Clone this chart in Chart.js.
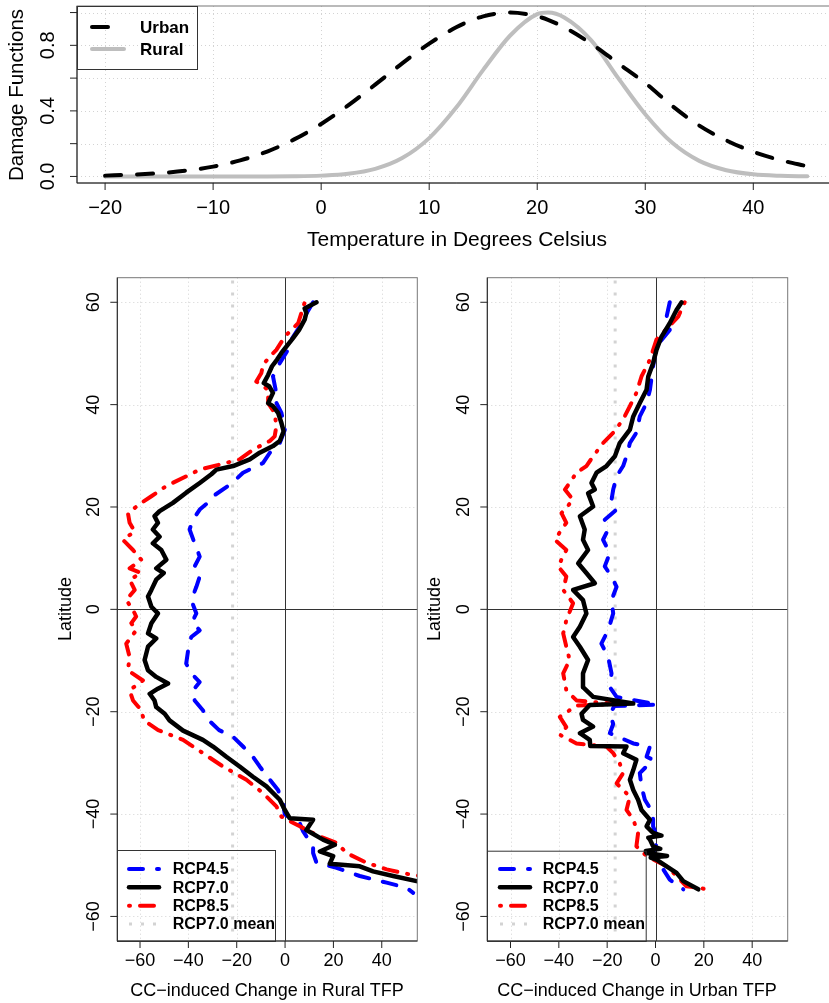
<!DOCTYPE html>
<html>
<head>
<meta charset="utf-8">
<script src="https://cdn.jsdelivr.net/npm/chart.js@4"></script>
<style>
html, body { margin: 0; padding: 0; background: #fff; overflow: hidden; width: 829px; height: 1003px; }
canvas { position: absolute; left: 0; top: 0; }
</style>
</head>
<body>
<canvas id="damage" width="840" height="255"></canvas>
<canvas id="rural" width="829" height="1003"></canvas>
<canvas id="urban" width="829" height="1003"></canvas>
<script>
// --- top panel: damage functions ---
const tempC = [-20, -17.5, -15, -12.5, -10, -7.5, -5, -2.5, 0, 2.5, 5, 7.5, 10, 12.5, 15, 17.5, 20, 21, 22.5, 25, 27.5, 30, 32.5, 35, 37.5, 40, 42.5, 45];
const urbanDamage = [0.005, 0.011, 0.020, 0.035, 0.060, 0.098, 0.152, 0.226, 0.32, 0.433, 0.56, 0.69, 0.81, 0.91, 0.977, 1.0, 0.977, 0.956, 0.91, 0.81, 0.69, 0.57, 0.43, 0.31, 0.22, 0.15, 0.10, 0.062];
const ruralDamage = [0, 0, 0, 0, 0, 0, 0, 0.001, 0.005, 0.016, 0.046, 0.112, 0.234, 0.42, 0.65, 0.86, 0.99, 1.0, 0.97, 0.83, 0.60, 0.38, 0.205, 0.095, 0.038, 0.013, 0.004, 0.001];
const tempTicks = [-20, -10, 0, 10, 20, 30, 40];
const tempTickLabels = ["\u221220", "\u221210", "0", "10", "20", "30", "40"];
const damageTicks = [0, 0.2, 0.4, 0.6, 0.8, 1.0];
const damageTickLabels = ["0.0", "", "0.4", "", "0.8", ""];

// --- bottom panels: [latitude, change in TFP] ---
const ruralRcp45 = [[60,11.6],[57.2,8.1],[55.3,6.1],[52.7,2.6],[50.7,1.2],[48.1,-2.2],[45.5,-5.0],[42.9,-3.9],[41.0,-4.3],[38.4,-1.5],[35.1,-0.1],[32.5,-2.2],[30.6,-6.3],[28.6,-9.1],[26.7,-17.4],[24.7,-21.8],[22.1,-29.8],[21.4,-30.5],[19.5,-35.3],[17.5,-38.1],[15.6,-39.5],[12.9,-37.4],[10.3,-35.3],[8.4,-37.4],[6.4,-35.3],[4.4,-36.7],[1.8,-38.8],[-0.8,-36.7],[-2.5,-38.5],[-4.1,-35.3],[-5.4,-38.8],[-8.0,-40.1],[-10.6,-40.9],[-12.5,-38.8],[-14.2,-35.3],[-15.8,-38.1],[-17.8,-37.4],[-19.7,-34],[-21.7,-31.5],[-23.6,-27.3],[-24.9,-21.5],[-26.8,-17.4],[-28.8,-13.3],[-30.7,-10.5],[-33.3,-6.3],[-35.3,-2.9],[-37.9,-0.8],[-40.1,-0.1],[-41.8,6.1],[-43.4,7.5],[-46.3,11.6],[-47.6,11.6],[-49.5,13],[-50.5,21.3],[-52.1,30.9],[-53.4,42],[-54.4,50.2],[-55.4,53]];
const ruralRcp70 = [[60,13.0],[58.8,8.1],[57.9,8.8],[56.6,8.1],[54.6,5.8],[53,3.3],[51.4,0.6],[50.1,-1.5],[48.8,-3.3],[47.5,-5.4],[45.8,-7.0],[44.2,-8.8],[43.6,-6.6],[42.3,-5.0],[40.3,-7.0],[39.7,-5.0],[38.4,-2.9],[36.4,-1.5],[34.8,-0.6],[32.9,-2.2],[31.9,-5.0],[30.6,-10.5],[29.3,-14.6],[28.0,-21.5],[27.3,-28.4],[26.4,-30.5],[24.7,-35.3],[22.8,-40.9],[20.8,-46.4],[19.2,-51.9],[18.2,-54],[16.9,-52.6],[15.6,-54.7],[14.2,-51.9],[12.9,-54.7],[11.6,-51.2],[9.7,-49.1],[8.0,-53.3],[7.1,-50.2],[5.8,-53.3],[3.8,-55.3],[2.5,-56.7],[0.5,-55.3],[-0.8,-52.6],[-2.7,-55.3],[-4.7,-56.7],[-5.7,-53.3],[-7.3,-56.7],[-9.9,-58.1],[-11.9,-56.7],[-13.2,-53.3],[-14.5,-48.4],[-15.5,-52.6],[-16.5,-56],[-17.8,-54],[-19.1,-53.3],[-20.4,-49.8],[-21.7,-47.8],[-23.7,-42.2],[-25.5,-34],[-26.8,-29.8],[-28.8,-24.3],[-30.7,-18.8],[-32.7,-13.3],[-34.6,-7.7],[-37.2,-2.2],[-39.2,-0.1],[-40.8,1.9],[-41.1,11.6],[-43.1,8.8],[-45,15.7],[-46,20.6],[-47.3,14.4],[-48.2,19.9],[-49.7,18.5],[-50.2,30.9],[-51.2,36.4],[-52.1,44.7],[-53.1,54.4],[-53.6,60]];
const ruralRcp85 = [[59.8,8],[55.9,5.4],[53.3,-0.1],[50.7,-3.6],[49.4,-6.3],[47.8,-9.1],[46.2,-9.8],[44.5,-11.9],[42.9,-7.0],[40.3,-7.0],[38.4,-4.3],[35.8,-3.6],[33.8,-4.3],[32.9,-6.3],[31.2,-13.3],[29.3,-18.8],[28.3,-27],[27.3,-35.3],[26.0,-40.9],[24.1,-49.1],[22.1,-55.3],[20.8,-59.5],[18.8,-65],[16.9,-64.3],[15.2,-62.2],[13.6,-67.1],[11.6,-62.9],[9.7,-59.5],[8.0,-64.3],[7.1,-59.5],[5.8,-64.3],[3.8,-62.2],[1.8,-65.7],[-0.1,-62.9],[-1.4,-61.6],[-2.7,-63.6],[-4.1,-61.6],[-6.7,-65.7],[-9.3,-64.3],[-11.9,-65],[-13.9,-58.8],[-15.8,-64.3],[-17.8,-62.9],[-19.7,-59.5],[-21.7,-58.4],[-23.6,-52.5],[-25.5,-42.2],[-28.1,-34],[-30.7,-25.7],[-33.3,-16],[-35.9,-9.1],[-38.5,-3.6],[-40.5,-1.5],[-42.4,6.1],[-44.4,14.4],[-45.6,21.3],[-47.6,25.4],[-49.5,33.7],[-50.8,42],[-51.8,51.6],[-52.2,58]];
const ruralMean = -21.7;

const urbanRcp45 = [[60,5.9],[57.2,4.6],[54.6,5.9],[51.4,0.4],[47.5,-1.0],[42.9,-2.3],[40.3,-3.7],[37.7,-6.5],[34.5,-7.9],[32.5,-10.6],[29.9,-12],[28.0,-13.4],[26.0,-16.1],[23.4,-17.5],[21.4,-18.2],[19.5,-16.1],[17.5,-21],[15.6,-19.6],[13.6,-21.7],[11.0,-18.9],[8.4,-21],[6.4,-18.2],[4.4,-16.1],[1.8,-18.2],[-0.8,-17.5],[-4.1,-19.6],[-6.7,-22.4],[-9.3,-19.6],[-12.5,-18.2],[-15.2,-18.9],[-17.1,-16.1],[-18.6,0.8],[-18.9,-17],[-20.4,-18.9],[-22.4,-17.5],[-24.2,-18.9],[-26.2,-9.2],[-26.8,-2.3],[-28.8,-3.7],[-29.4,-1.0],[-32.0,-6.5],[-34.6,-5.8],[-37.2,-4.4],[-39.8,-1.0],[-42.4,-1.0],[-45.0,1.1],[-47.6,-1.0],[-50.8,3.2],[-52.8,5.9],[-54.7,11.5]];
const urbanRcp70 = [[60,10.8],[58.5,8.7],[55.9,5.9],[53.3,2.5],[50.7,0.4],[48.1,-1.0],[45.5,-3],[42.9,-3.7],[40.3,-6.5],[37.7,-9.2],[35.1,-10.6],[32.5,-14.8],[29.9,-16.8],[28.0,-20.3],[26.7,-24.4],[24.7,-26.5],[23.4,-25.1],[22.7,-27.9],[20.1,-25.8],[18.2,-31.3],[15.6,-29.3],[13.6,-30],[11.6,-27.9],[9.0,-32],[7.1,-28.6],[5.1,-25.1],[3.8,-34.1],[1.8,-30],[-0.8,-28.6],[-3.4,-31.3],[-5.4,-34.1],[-7.3,-31.3],[-9.9,-27.9],[-12.5,-30],[-15.2,-30],[-17.1,-25.8],[-18.4,-9.2],[-18.7,-27.2],[-20.4,-30.6],[-21.6,-30],[-22.9,-25.8],[-24.2,-31.3],[-25.5,-27.2],[-26.7,-27],[-26.8,-12],[-28.1,-13.4],[-29.4,-7.9],[-31.4,-9.2],[-33.3,-10.6],[-35.3,-9.2],[-37.2,-7.2],[-39.2,-5.8],[-41.1,-2.3],[-42.4,-3.7],[-43.7,-1.0],[-44.2,2.5],[-44.6,-3.0],[-45.0,-2.3],[-46.3,-1.0],[-46.8,2.0],[-47.2,-4.0],[-47.6,-3.7],[-48.2,4.8],[-48.5,-2.0],[-48.9,0.4],[-50.2,4.6],[-51.5,8.7],[-53.1,11.5],[-54.7,17.7]];
const urbanRcp85 = [[60,12.1],[57.2,9.4],[52.7,0.4],[48.8,-2.3],[45.5,-5.8],[42.3,-7.9],[39.7,-10.6],[37.1,-13.4],[34.5,-17.5],[32.5,-21.7],[29.9,-25.8],[28.0,-28.6],[26.7,-32.7],[24.7,-35.5],[23.4,-37.5],[21.4,-34.1],[18.8,-38.9],[16.9,-36.9],[13.6,-41.7],[11.6,-36.9],[8.4,-40.3],[6.4,-36.9],[3.8,-38.2],[1.2,-34.1],[-2.1,-36.9],[-4.7,-38.2],[-7.3,-36.9],[-9.9,-35.5],[-12.5,-38.2],[-15.8,-36.9],[-17.8,-32.7],[-18.5,-16.1],[-18.8,-33],[-19.7,-35.5],[-21.0,-39.6],[-23.0,-36.9],[-24.5,-39.6],[-26.2,-32.7],[-26.8,-20.3],[-28.1,-17.5],[-30.1,-14.8],[-32.0,-13.4],[-34.0,-16.1],[-36.6,-10.6],[-39.2,-12],[-41.1,-9.2],[-43.7,-7.2],[-46.3,-7.9],[-48.2,-3.7],[-50.2,4.6],[-52.1,8.7],[-54.1,12.8],[-54.7,21.8]];
const urbanMean = -16.7;

const tfpTicks = [-60, -40, -20, 0, 20, 40];
const tfpTickLabels = ["\u221260", "\u221240", "\u221220", "0", "20", "40"];
const latTicks = [60, 40, 20, 0, -20, -40, -60];
const latTickLabels = ["60", "40", "20", "0", "\u221220", "\u221240", "\u221260"];

const FONT = "'Liberation Sans', Arial, Helvetica, sans-serif";

const toPoints = pairs => pairs.map(p => ({ x: p[1], y: p[0] }));

// draws the R-style frame: grid, box, ticks, labels, titles and legend
const rFrame = {
    id: "rFrame",
    beforeDatasetsDraw(chart, args, o) {
        const { ctx, chartArea: a, scales: { x, y } } = chart;
        ctx.save();
        ctx.strokeStyle = "#d3d3d3";
        ctx.lineWidth = 1;
        ctx.setLineDash([1, 3]);
        o.xTicks.forEach(v => {
            const px = Math.round(x.getPixelForValue(v)) + 0.5;
            ctx.beginPath(); ctx.moveTo(px, a.top); ctx.lineTo(px, a.bottom); ctx.stroke();
        });
        o.yTicks.forEach(v => {
            const py = Math.round(y.getPixelForValue(v)) + 0.5;
            ctx.beginPath(); ctx.moveTo(a.left, py); ctx.lineTo(a.right, py); ctx.stroke();
        });
        if (o.zeroLines) {
            ctx.setLineDash([]);
            ctx.strokeStyle = "#333";
            const px = Math.round(x.getPixelForValue(0)) + 0.5;
            const py = Math.round(y.getPixelForValue(0)) + 0.5;
            ctx.beginPath(); ctx.moveTo(px, a.top); ctx.lineTo(px, a.bottom); ctx.stroke();
            ctx.beginPath(); ctx.moveTo(a.left, py); ctx.lineTo(a.right, py); ctx.stroke();
        }
        ctx.restore();
    },
    afterDraw(chart, args, o) {
        const { ctx, chartArea: a, scales: { x, y } } = chart;
        ctx.save();
        ctx.setLineDash([]);
        ctx.lineWidth = 1;
        // box
        ctx.strokeStyle = "#777";
        ctx.strokeRect(a.left, a.top, a.right - a.left, a.bottom - a.top);
        ctx.strokeStyle = "#222";
        ctx.beginPath();
        ctx.moveTo(a.left, a.top); ctx.lineTo(a.left, a.bottom); ctx.lineTo(a.right, a.bottom);
        ctx.stroke();

        ctx.fillStyle = "#000";
        ctx.font = o.tickFont;
        ctx.textAlign = "center";
        ctx.textBaseline = "middle";
        o.xTicks.forEach((v, i) => {
            const px = x.getPixelForValue(v);
            ctx.beginPath(); ctx.moveTo(px, a.bottom); ctx.lineTo(px, a.bottom + 7); ctx.stroke();
            ctx.fillText(o.xLabels[i], px, a.bottom + o.xLabelGap);
        });
        o.yTicks.forEach((v, i) => {
            const py = y.getPixelForValue(v);
            ctx.beginPath(); ctx.moveTo(a.left, py); ctx.lineTo(a.left - 7, py); ctx.stroke();
            if (!o.yLabels[i]) return;
            ctx.save();
            ctx.translate(a.left - o.yLabelGap, py);
            ctx.rotate(-Math.PI / 2);
            ctx.fillText(o.yLabels[i], 0, 0);
            ctx.restore();
        });

        // axis titles
        ctx.font = o.titleFont;
        ctx.fillText(o.xTitle, o.xTitlePos[0], o.xTitlePos[1]);
        ctx.font = o.yTitleFont || o.titleFont;
        ctx.save();
        ctx.translate(o.yTitlePos[0], o.yTitlePos[1]);
        ctx.rotate(-Math.PI / 2);
        ctx.fillText(o.yTitle, 0, 0);
        ctx.restore();

        // legend
        const lg = o.legend;
        ctx.strokeStyle = "#333";
        ctx.lineWidth = 1;
        ctx.strokeRect(lg.box[0] + 0.5, lg.box[1] + 0.5, lg.box[2] - lg.box[0], lg.box[3] - lg.box[1]);
        ctx.font = lg.font;
        ctx.textAlign = "left";
        lg.items.forEach((it, i) => {
            const ry = lg.rows[i];
            ctx.save();
            ctx.strokeStyle = it.color;
            ctx.lineWidth = it.width;
            ctx.lineCap = it.cap || "round";
            ctx.setLineDash(it.dash || []);
            ctx.beginPath(); ctx.moveTo(lg.lineX[0], ry); ctx.lineTo(lg.lineX[1], ry); ctx.stroke();
            ctx.restore();
            ctx.fillStyle = "#000";
            ctx.fillText(it.label, lg.textX, ry + 1);
        });
        ctx.restore();
    }
};

const styles = {
    rcp45: { color: "#0000ff", width: 4, dash: [14, 14] },
    rcp70: { color: "#000000", width: 4.5, dash: [] },
    rcp85: { color: "#ff0000", width: 4, dash: [1, 10, 14, 10] },
    mean: { color: "#d3d3d3", width: 3, dash: [3, 9], cap: "butt" }
};

function lineDs(label, pts, st, extra) {
    return Object.assign({
        label: label,
        data: pts,
        showLine: true,
        borderColor: st.color,
        borderWidth: st.width,
        borderDash: st.dash,
        borderCapStyle: st.cap || "round",
        borderJoinStyle: "round",
        pointRadius: 0,
        tension: 0,
        fill: false
    }, extra || {});
}

function scaleOpts(min, max) {
    return { type: "linear", min: min, max: max, display: false };
}

const baseOptions = {
    responsive: false,
    animation: false,
    events: [],
    devicePixelRatio: 1
};

// top: damage functions
new Chart(document.getElementById("damage"), {
    type: "scatter",
    data: {
        datasets: [
            lineDs("Urban", tempC.map((t, i) => ({ x: t, y: urbanDamage[i] })), { color: "#000", width: 4, dash: [16, 16] }, { cubicInterpolationMode: "monotone" }),
            lineDs("Rural", tempC.map((t, i) => ({ x: t, y: ruralDamage[i] })), { color: "#bebebe", width: 4, dash: [] }, { cubicInterpolationMode: "monotone" })
        ]
    },
    options: Object.assign({}, baseOptions, {
        layout: { padding: { left: 77, top: 6, right: 4.6, bottom: 72 } },
        scales: { x: scaleOpts(-22.6, 47.6), y: scaleOpts(-0.04, 1.04) },
        plugins: {
            legend: { display: false },
            tooltip: { enabled: false },
            rFrame: {
                xTicks: tempTicks, xLabels: tempTickLabels, xLabelGap: 25,
                yTicks: damageTicks, yLabels: damageTickLabels, yLabelGap: 28.5,
                tickFont: "20px " + FONT, titleFont: "21px " + FONT, yTitleFont: "20.5px " + FONT,
                xTitle: "Temperature in Degrees Celsius", xTitlePos: [457, 240],
                yTitle: "Damage Functions", yTitlePos: [17.5, 95],
                legend: {
                    box: [77, 6, 197, 69], lineX: [92, 124], textX: 140, rows: [27, 49],
                    font: "bold 17px " + FONT,
                    items: [
                        { label: "Urban", color: "#000", width: 4, dash: [16, 16] },
                        { label: "Rural", color: "#bebebe", width: 4 }
                    ]
                }
            }
        }
    }),
    plugins: [rFrame]
});

function tfpPanel(id, left, right, xMin, rcp45, rcp70, rcp85, mean, xTitle, xTitleX, yTitleX, legend) {
    new Chart(document.getElementById(id), {
        type: "scatter",
        data: {
            datasets: [
                lineDs("RCP7.0", toPoints(rcp70), styles.rcp70),
                lineDs("RCP8.5", toPoints(rcp85), styles.rcp85),
                lineDs("RCP4.5", toPoints(rcp45), styles.rcp45),
                lineDs("RCP7.0 mean", [{ x: mean, y: -70 }, { x: mean, y: 70 }], styles.mean)
            ]
        },
        options: Object.assign({}, baseOptions, {
            layout: { padding: { left: left, top: 277.7, right: 829 - right, bottom: 62 } },
            scales: { x: scaleOpts(xMin, 54.7), y: scaleOpts(-64.8, 64.8) },
            plugins: {
                legend: { display: false },
                tooltip: { enabled: false },
                rFrame: {
                    zeroLines: true,
                    xTicks: tfpTicks, xLabels: tfpTickLabels, xLabelGap: 20,
                    yTicks: latTicks, yLabels: latTickLabels, yLabelGap: 23,
                    tickFont: "18px " + FONT, titleFont: "18px " + FONT,
                    xTitle: xTitle, xTitlePos: [xTitleX, 991],
                    yTitle: "Latitude", yTitlePos: [yTitleX, 609],
                    legend: legend
                }
            }
        }),
        plugins: [rFrame]
    });
}

function tfpLegend(x0, x1, y0, lineX0, textX) {
    return {
        box: [x0, y0, x1, 941], lineX: [lineX0, lineX0 + 30], textX: textX,
        rows: [869, 887.3, 905.7, 924],
        font: "bold 16px " + FONT,
        items: [
            { label: "RCP4.5", color: styles.rcp45.color, width: 4, dash: styles.rcp45.dash },
            { label: "RCP7.0", color: "#000", width: 4.5 },
            { label: "RCP8.5", color: styles.rcp85.color, width: 4, dash: styles.rcp85.dash },
            { label: "RCP7.0 mean", color: styles.mean.color, width: 3, dash: styles.mean.dash, cap: "butt" }
        ]
    };
}

tfpPanel("rural", 117.3, 417.3, -69.4, ruralRcp45, ruralRcp70, ruralRcp85, ruralMean,
    "CC\u2212induced Change in Rural TFP", 267, 66, tfpLegend(117, 275, 850, 129, 172.7));
tfpPanel("urban", 487.3, 787.7, -69.6, urbanRcp45, urbanRcp70, urbanRcp85, urbanMean,
    "CC\u2212induced Change in Urban TFP", 637, 435, tfpLegend(487, 645.7, 850.7, 500, 542.7));
</script>
</body>
</html>
